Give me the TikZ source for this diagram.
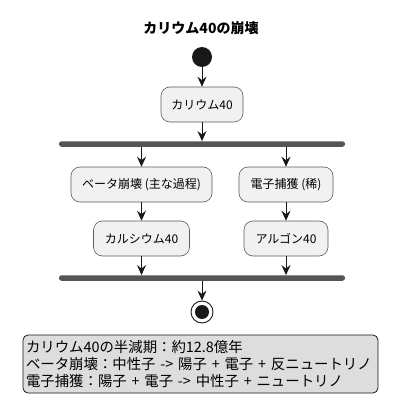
\documentclass[tikz,border=0pt]{standalone}
\usepackage{fontspec}
\setmainfont{Noto Sans CJK JP}
\usetikzlibrary{arrows.meta}
\definecolor{boxfill}{HTML}{F1F1F1}
\definecolor{boxline}{HTML}{5A5A5A}
\definecolor{barcol}{HTML}{555555}
\definecolor{notefill}{HTML}{DDDDDD}
\definecolor{ink}{HTML}{181818}
\tikzset{
  act/.style={draw=boxline, fill=boxfill, rounded corners=9pt, line width=0.6pt,
    minimum height=35pt, inner sep=0pt, font=\fontsize{12}{14}\selectfont, text=black},
  bar/.style={fill=barcol, draw=none, rounded corners=2.5pt, minimum width=286pt,
    minimum height=5.5pt, inner sep=0pt},
  flow/.style={draw=ink, line width=0.8pt, -{Stealth[length=10pt,width=9pt,inset=3.5pt]}},
}
\begin{document}
\begin{tikzpicture}[x=1pt,y=-1pt]
\useasboundingbox (0,0) rectangle (402,417);
\node[font=\fontsize{14}{16}\selectfont\bfseries] (title) at (201,28) {カリウム40の崩壊};
\node[circle, fill=ink, minimum size=20pt, inner sep=0pt] (start) at (202,57) {};
\node[act, minimum width=82pt] (k40) at (202,104.5) {カリウム40};
\node[bar] (fork) at (202,144) {};
\node[act, minimum width=141pt] (beta) at (141.5,184.5) {ベータ崩壊 (主な過程)};
\node[act, minimum width=94pt] (ec) at (286,184.5) {電子捕獲 (稀)};
\node[act, minimum width=96pt] (ca) at (141.5,238.5) {カルシウム40};
\node[act, minimum width=84pt] (ar) at (286,238.5) {アルゴン40};
\node[bar] (join) at (202,278) {};
\node[circle, draw=ink, line width=0.9pt, fill=white, minimum size=22pt, inner sep=0pt] (stop) at (202,312) {};
\node[circle, fill=ink, minimum size=14pt, inner sep=0pt] (stopdot) at (stop.center) {};
\node[draw=ink, fill=notefill, rounded corners=5pt, line width=0.8pt,
  minimum width=355pt, minimum height=58pt, text width=349pt, inner xsep=3pt, inner ysep=0pt,
  align=left, font=\fontsize{14.4}{17}\selectfont] (note) at (200.5,364)
  {\mbox{カリウム40の半減期：約12.8億年}\\
   \mbox{ベータ崩壊：中性子 -> 陽子 + 電子 + 反ニュートリノ}\\
   \mbox{電子捕獲：陽子 + 電子 -> 中性子 + ニュートリノ}};
\draw[flow] (start) -- (k40);
\draw[flow] (k40) -- (fork.north -| k40);
\draw[flow] (fork.south -| beta) -- (beta);
\draw[flow] (fork.south -| ec) -- (ec);
\draw[flow] (beta) -- (ca);
\draw[flow] (ec) -- (ar);
\draw[flow] (ca) -- (join.north -| ca);
\draw[flow] (ar) -- (join.north -| ar);
\draw[flow] (join.south -| stop) -- (stop);
\end{tikzpicture}
\end{document}
